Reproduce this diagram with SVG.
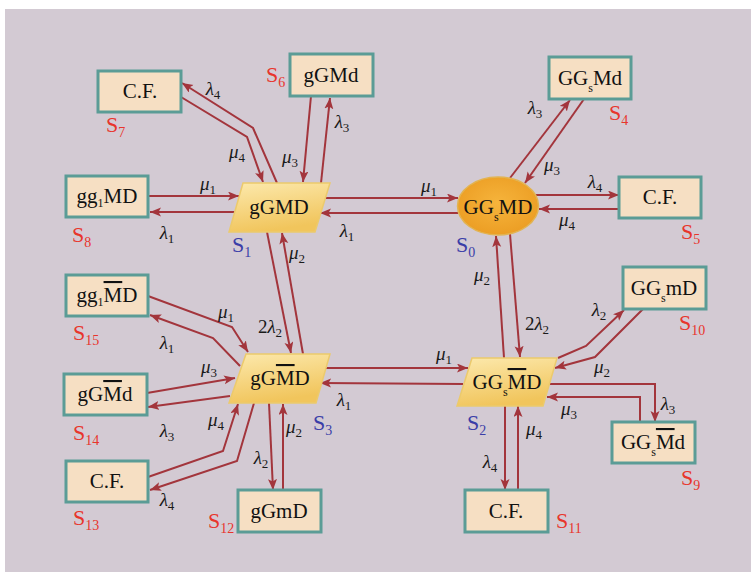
<svg xmlns="http://www.w3.org/2000/svg" width="753" height="572" viewBox="0 0 753 572">
<defs>
<style>
.box{fill:#f6dfc3;stroke:#5b9c96;stroke-width:3}
.para{fill:url(#gy);stroke:#ecca6c;stroke-width:1.5}
.nt{font-family:"Liberation Serif","Times New Roman",serif;font-size:21px;fill:#111;text-anchor:middle}
.ns{font-size:12px}
.ob{text-decoration:overline}
.c{fill:none;stroke:#a3353c;stroke-width:2;marker-end:url(#ah)}
.lb{font-family:"Liberation Serif","Times New Roman",serif;font-size:19px;font-style:italic;fill:#1a1a1a;text-anchor:middle}
.ls{font-size:13px;font-style:normal}
.sr{font-family:"Liberation Serif","Times New Roman",serif;font-size:22px;fill:#e8352c}
.sb{font-family:"Liberation Serif","Times New Roman",serif;font-size:22px;fill:#3b3ea8}
.ss{font-size:14px}
</style>
<linearGradient id="gy" x1="0" y1="0" x2="0.3" y2="1">
<stop offset="0" stop-color="#fce9ad"/>
<stop offset="1" stop-color="#f1c55c"/>
</linearGradient>
<radialGradient id="go" cx="0.5" cy="0.45" r="0.6">
<stop offset="0" stop-color="#f6b43c"/>
<stop offset="1" stop-color="#eb9c22"/>
</radialGradient>
<marker id="ah" markerUnits="userSpaceOnUse" markerWidth="12" markerHeight="10" refX="11" refY="4.5" orient="auto">
<path d="M0,0 L11,4.5 L0,9 L2.5,4.5 z" fill="#a3353c"/>
</marker>
</defs>
<rect x="0" y="0" width="753" height="572" fill="#ffffff"/>
<rect x="5" y="9" width="746" height="563" fill="#d3cad3"/>

<g id="connectors">
<path class="c" d="M148,196 L239,196"/>
<path class="c" d="M235,212 L150,212"/>
<path class="c" d="M277,183 L253,128 L182,83"/>
<path class="c" d="M181,97 L247,137 L263,182"/>
<path class="c" d="M311,96 L303,182"/>
<path class="c" d="M321,183 L330,98"/>
<path class="c" d="M325,198 L458,198"/>
<path class="c" d="M458,213 L320,213"/>
<path class="c" d="M510,178 L570,100"/>
<path class="c" d="M584,99 L525,183"/>
<path class="c" d="M536,195 L619,195"/>
<path class="c" d="M619,209 L539,209"/>
<path class="c" d="M504,358 L496,236"/>
<path class="c" d="M510,234 L520,357"/>
<path class="c" d="M303,354 L282,233"/>
<path class="c" d="M267,232 L291,353"/>
<path class="c" d="M325,368 L468,368"/>
<path class="c" d="M463,384 L320,383"/>
<path class="c" d="M148,296 L232,327 L248,352"/>
<path class="c" d="M240,366 L213,338 L150,315"/>
<path class="c" d="M147,393 L235,378"/>
<path class="c" d="M230,396 L148,407"/>
<path class="c" d="M148,477 L223,451 L238,404"/>
<path class="c" d="M254,403 L237,461 L150,490"/>
<path class="c" d="M269,403 L273,490"/>
<path class="c" d="M283,490 L283,404"/>
<path class="c" d="M558,358 L586,346 L624,310"/>
<path class="c" d="M643,309 L595,357 L555,368"/>
<path class="c" d="M549,384 L655,384 L655,422"/>
<path class="c" d="M640,422 L640,397 L547,397"/>
<path class="c" d="M505,406 L505,490"/>
<path class="c" d="M518,490 L518,406"/>
</g>

<g id="labels">
<text class="lb" x="208" y="190">μ<tspan class="ls" dy="4">1</tspan></text>
<text class="lb" x="167" y="239">λ<tspan class="ls" dy="4">1</tspan></text>
<text class="lb" x="213" y="95">λ<tspan class="ls" dy="4">4</tspan></text>
<text class="lb" x="237" y="158">μ<tspan class="ls" dy="4">4</tspan></text>
<text class="lb" x="290" y="163">μ<tspan class="ls" dy="4">3</tspan></text>
<text class="lb" x="342" y="128">λ<tspan class="ls" dy="4">3</tspan></text>
<text class="lb" x="347" y="237">λ<tspan class="ls" dy="4">1</tspan></text>
<text class="lb" x="429" y="192">μ<tspan class="ls" dy="4">1</tspan></text>
<text class="lb" x="297" y="259">μ<tspan class="ls" dy="4">2</tspan></text>
<text class="lb" x="535" y="114">λ<tspan class="ls" dy="4">3</tspan></text>
<text class="lb" x="552" y="171">μ<tspan class="ls" dy="4">3</tspan></text>
<text class="lb" x="595" y="188">λ<tspan class="ls" dy="4">4</tspan></text>
<text class="lb" x="567" y="226">μ<tspan class="ls" dy="4">4</tspan></text>
<text class="lb" x="482" y="281">μ<tspan class="ls" dy="4">2</tspan></text>
<text class="lb" x="537" y="330"><tspan font-style="normal">2</tspan>λ<tspan class="ls" dy="4">2</tspan></text>
<text class="lb" x="270" y="333"><tspan font-style="normal">2</tspan>λ<tspan class="ls" dy="4">2</tspan></text>
<text class="lb" x="226" y="318">μ<tspan class="ls" dy="4">1</tspan></text>
<text class="lb" x="167" y="349">λ<tspan class="ls" dy="4">1</tspan></text>
<text class="lb" x="209" y="373">μ<tspan class="ls" dy="4">3</tspan></text>
<text class="lb" x="167" y="437">λ<tspan class="ls" dy="4">3</tspan></text>
<text class="lb" x="216" y="426">μ<tspan class="ls" dy="4">4</tspan></text>
<text class="lb" x="167" y="506">λ<tspan class="ls" dy="4">4</tspan></text>
<text class="lb" x="261" y="464">λ<tspan class="ls" dy="4">2</tspan></text>
<text class="lb" x="294" y="433">μ<tspan class="ls" dy="4">2</tspan></text>
<text class="lb" x="344" y="406">λ<tspan class="ls" dy="4">1</tspan></text>
<text class="lb" x="444" y="360">μ<tspan class="ls" dy="4">1</tspan></text>
<text class="lb" x="599" y="316">λ<tspan class="ls" dy="4">2</tspan></text>
<text class="lb" x="602" y="373">μ<tspan class="ls" dy="4">2</tspan></text>
<text class="lb" x="668" y="410">λ<tspan class="ls" dy="4">3</tspan></text>
<text class="lb" x="569" y="415">μ<tspan class="ls" dy="4">3</tspan></text>
<text class="lb" x="490" y="468">λ<tspan class="ls" dy="4">4</tspan></text>
<text class="lb" x="534" y="435">μ<tspan class="ls" dy="4">4</tspan></text>
</g>

<g id="S0">
<ellipse cx="498" cy="206" rx="40.5" ry="29" fill="url(#go)" stroke="#e2b452" stroke-width="1.5"/>
<text class="nt" x="498" y="214">GG<tspan class="ns" dy="7">s</tspan><tspan dy="-7">MD</tspan></text>
<text class="sb" x="456" y="252">S<tspan class="ss" dy="5">0</tspan></text>
</g>
<g id="S1">
<polygon class="para" points="243,183 330,183 315,232 229,232"/>
<text class="nt" x="279" y="214">gGMD</text>
<text class="sb" x="232" y="252">S<tspan class="ss" dy="5">1</tspan></text>
</g>
<g id="S2">
<polygon class="para" points="472,358 557,358 543,406 457,406"/>
<text class="nt" x="507" y="389">GG<tspan class="ns" dy="7">s</tspan><tspan dy="-7" class="ob">M</tspan>D</text>
<text class="sb" x="467" y="430">S<tspan class="ss" dy="5">2</tspan></text>
</g>
<g id="S3">
<polygon class="para" points="246,354 330,354 316,403 229,403"/>
<text class="nt" x="280" y="385">gG<tspan class="ob">M</tspan>D</text>
<text class="sb" x="313" y="430">S<tspan class="ss" dy="5">3</tspan></text>
</g>
<g id="S4">
<rect class="box" x="549" y="57" width="82" height="42"/>
<text class="nt" x="590" y="85">GG<tspan class="ns" dy="7">s</tspan><tspan dy="-7">Md</tspan></text>
<text class="sr" x="609" y="120">S<tspan class="ss" dy="5">4</tspan></text>
</g>
<g id="S5">
<rect class="box" x="619" y="177" width="82" height="41"/>
<text class="nt" x="660" y="204">C.F.</text>
<text class="sr" x="681" y="239">S<tspan class="ss" dy="5">5</tspan></text>
</g>
<g id="S6">
<rect class="box" x="290" y="54" width="83" height="42"/>
<text class="nt" x="331" y="82">gGMd</text>
<text class="sr" x="266" y="82">S<tspan class="ss" dy="5">6</tspan></text>
</g>
<g id="S7">
<rect class="box" x="98" y="71" width="83" height="41"/>
<text class="nt" x="140" y="98">C.F.</text>
<text class="sr" x="106" y="132">S<tspan class="ss" dy="5">7</tspan></text>
</g>
<g id="S8">
<rect class="box" x="66" y="176" width="82" height="41"/>
<text class="nt" x="107" y="203">gg<tspan class="ns" dy="4">1</tspan><tspan dy="-4">MD</tspan></text>
<text class="sr" x="72" y="242">S<tspan class="ss" dy="5">8</tspan></text>
</g>
<g id="S9">
<rect class="box" x="612" y="422" width="83" height="41"/>
<text class="nt" x="653" y="449">GG<tspan class="ns" dy="7">s</tspan><tspan dy="-7" class="ob">M</tspan>d</text>
<text class="sr" x="681" y="485">S<tspan class="ss" dy="5">9</tspan></text>
</g>
<g id="S10">
<rect class="box" x="623" y="267" width="83" height="42"/>
<text class="nt" x="664" y="295">GG<tspan class="ns" dy="7">s</tspan><tspan dy="-7">mD</tspan></text>
<text class="sr" x="679" y="330">S<tspan class="ss" dy="5">10</tspan></text>
</g>
<g id="S11">
<rect class="box" x="465" y="490" width="83" height="42"/>
<text class="nt" x="506" y="518">C.F.</text>
<text class="sr" x="556" y="528">S<tspan class="ss" dy="5">11</tspan></text>
</g>
<g id="S12">
<rect class="box" x="238" y="490" width="83" height="42"/>
<text class="nt" x="279" y="518">gGmD</text>
<text class="sr" x="208" y="528">S<tspan class="ss" dy="5">12</tspan></text>
</g>
<g id="S13">
<rect class="box" x="66" y="461" width="82" height="41"/>
<text class="nt" x="107" y="488">C.F.</text>
<text class="sr" x="73" y="525">S<tspan class="ss" dy="5">13</tspan></text>
</g>
<g id="S14">
<rect class="box" x="64" y="374" width="83" height="41"/>
<text class="nt" x="105" y="401">gG<tspan class="ob">M</tspan>d</text>
<text class="sr" x="73" y="440">S<tspan class="ss" dy="5">14</tspan></text>
</g>
<g id="S15">
<rect class="box" x="66" y="275" width="82" height="41"/>
<text class="nt" x="107" y="302">gg<tspan class="ns" dy="4">1</tspan><tspan dy="-4" class="ob">M</tspan>D</text>
<text class="sr" x="73" y="340">S<tspan class="ss" dy="5">15</tspan></text>
</g>
</svg>
